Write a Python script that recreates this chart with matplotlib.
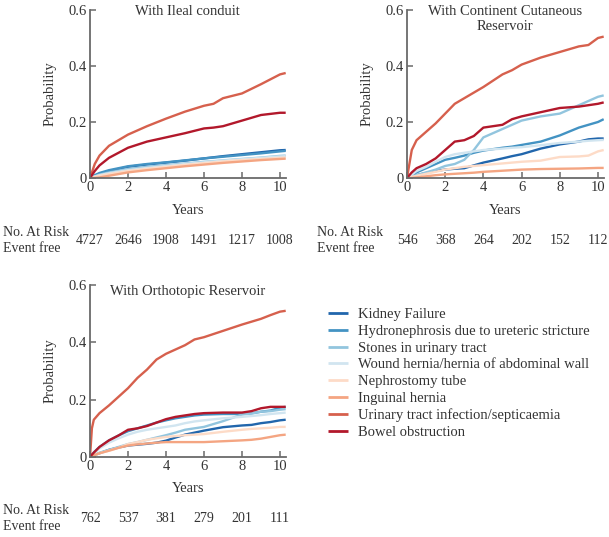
import matplotlib
matplotlib.use("Agg")
import matplotlib.pyplot as plt
from matplotlib.transforms import blended_transform_factory

plt.rcParams['font.family'] = ['Liberation Serif', 'DejaVu Serif']

labels = ["Kidney Failure", "Hydronephrosis due to ureteric stricture",
          "Stones in urinary tract", "Wound hernia/hernia of abdominal wall",
          "Nephrostomy tube", "Inguinal hernia",
          "Urinary tract infection/septicaemia", "Bowel obstruction"]
colors = ['#2166ac', '#4393c3', '#92c5de', '#d1e5f0',
          '#fddbc7', '#f4a582', '#d6604d', '#b2182b']

# --- With Ileal conduit ---
t_ileal = [0, 0.25, 0.5, 1, 2, 3, 4, 5, 6, 6.5, 7, 8, 9, 10, 10.3]
ileal_kf = [0, 0.008, 0.015, 0.025, 0.04, 0.048, 0.055, 0.062, 0.07, 0.074, 0.078, 0.085, 0.092, 0.099, 0.1]
ileal_hyd = [0, 0.01, 0.018, 0.028, 0.042, 0.05, 0.056, 0.063, 0.07, 0.073, 0.076, 0.082, 0.088, 0.095, 0.097]
ileal_stone = [0, 0.006, 0.012, 0.02, 0.032, 0.04, 0.046, 0.052, 0.058, 0.06, 0.063, 0.068, 0.073, 0.079, 0.08]
ileal_wound = [0, 0.005, 0.01, 0.017, 0.028, 0.036, 0.043, 0.05, 0.056, 0.059, 0.062, 0.067, 0.072, 0.077, 0.078]
ileal_neph = [0, 0.004, 0.008, 0.014, 0.025, 0.033, 0.04, 0.047, 0.053, 0.056, 0.059, 0.064, 0.068, 0.072, 0.073]
ileal_ing = [0, 0.0, 0.002, 0.008, 0.02, 0.028, 0.035, 0.042, 0.048, 0.051, 0.054, 0.059, 0.064, 0.068, 0.069]
ileal_uti = [0, 0.05, 0.08, 0.115, 0.155, 0.185, 0.212, 0.237, 0.258, 0.265, 0.285, 0.302, 0.335, 0.37, 0.375]
ileal_bowel = [0, 0.025, 0.045, 0.072, 0.108, 0.13, 0.145, 0.16, 0.177, 0.18, 0.185, 0.205, 0.225, 0.233, 0.233]
ileal_risk = ["4727", "2646", "1908", "1491", "1217", "1008"]

# --- With Continent Cutaneous Reservoir ---
t_cont = [0, 0.25, 0.5, 1, 1.5, 2, 2.5, 3, 3.5, 4, 5, 5.5, 6, 7, 8, 9, 9.5, 10, 10.3]
cont_kf = [0, 0.005, 0.01, 0.018, 0.025, 0.03, 0.033, 0.035, 0.045, 0.055, 0.07, 0.078, 0.085, 0.105, 0.12, 0.13, 0.138, 0.141, 0.141]
cont_hyd = [0, 0.01, 0.02, 0.035, 0.05, 0.065, 0.072, 0.08, 0.09, 0.098, 0.108, 0.112, 0.118, 0.13, 0.152, 0.18, 0.19, 0.2, 0.21]
cont_stone = [0, 0.005, 0.01, 0.02, 0.03, 0.043, 0.05, 0.065, 0.1, 0.145, 0.175, 0.19, 0.205, 0.22, 0.23, 0.26, 0.275, 0.29, 0.295]
cont_wound = [0, 0.012, 0.025, 0.04, 0.058, 0.075, 0.085, 0.09, 0.095, 0.1, 0.105, 0.108, 0.11, 0.117, 0.125, 0.13, 0.133, 0.135, 0.136]
cont_neph = [0, 0.004, 0.008, 0.015, 0.022, 0.03, 0.035, 0.04, 0.043, 0.046, 0.052, 0.055, 0.058, 0.062, 0.075, 0.077, 0.08, 0.095, 0.1]
cont_ing = [0, 0.0, 0.002, 0.006, 0.01, 0.013, 0.015, 0.017, 0.019, 0.022, 0.026, 0.028, 0.03, 0.032, 0.033, 0.034, 0.035, 0.036, 0.036]
cont_uti = [0, 0.10, 0.135, 0.165, 0.195, 0.23, 0.265, 0.285, 0.305, 0.325, 0.37, 0.385, 0.405, 0.43, 0.45, 0.47, 0.475, 0.50, 0.505]
cont_bowel = [0, 0.02, 0.035, 0.05, 0.07, 0.10, 0.13, 0.135, 0.15, 0.18, 0.19, 0.21, 0.22, 0.235, 0.25, 0.255, 0.26, 0.265, 0.27]
cont_risk = ["546", "368", "264", "202", "152", "112"]

# --- With Orthotopic Reservoir ---
t_orth = [0, 0.1, 0.2, 0.5, 1, 1.5, 2, 2.5, 3, 3.5, 4, 4.5, 5, 5.5, 6, 7, 8, 8.5, 9, 9.5, 10, 10.3]
orth_kf = [0, 0.003, 0.006, 0.013, 0.025, 0.033, 0.04, 0.043, 0.046, 0.05, 0.057, 0.068, 0.078, 0.085, 0.092, 0.104, 0.11, 0.112, 0.118, 0.122, 0.128, 0.13]
orth_hyd = [0, 0.008, 0.016, 0.035, 0.058, 0.075, 0.09, 0.1, 0.11, 0.12, 0.128, 0.135, 0.14, 0.145, 0.148, 0.15, 0.15, 0.152, 0.158, 0.162, 0.172, 0.175]
orth_stone = [0, 0.003, 0.006, 0.015, 0.025, 0.035, 0.045, 0.052, 0.06, 0.068, 0.076, 0.085, 0.095, 0.1, 0.105, 0.125, 0.148, 0.152, 0.158, 0.16, 0.165, 0.167]
orth_wound = [0, 0.006, 0.012, 0.03, 0.05, 0.065, 0.078, 0.088, 0.095, 0.1, 0.105, 0.11, 0.118, 0.124, 0.128, 0.135, 0.14, 0.143, 0.146, 0.15, 0.153, 0.155]
orth_neph = [0, 0.003, 0.006, 0.013, 0.022, 0.032, 0.045, 0.052, 0.06, 0.065, 0.07, 0.073, 0.076, 0.078, 0.08, 0.088, 0.095, 0.098, 0.1, 0.102, 0.105, 0.105]
orth_ing = [0, 0.003, 0.006, 0.013, 0.022, 0.032, 0.04, 0.044, 0.047, 0.05, 0.052, 0.052, 0.052, 0.052, 0.052, 0.055, 0.058, 0.06, 0.064, 0.07, 0.076, 0.078]
orth_uti = [0, 0.10, 0.13, 0.153, 0.18, 0.21, 0.24, 0.276, 0.305, 0.34, 0.36, 0.375, 0.39, 0.41, 0.418, 0.44, 0.462, 0.472, 0.482, 0.495, 0.507, 0.51]
orth_bowel = [0, 0.008, 0.015, 0.035, 0.058, 0.075, 0.095, 0.1, 0.108, 0.12, 0.132, 0.14, 0.145, 0.15, 0.153, 0.155, 0.155, 0.16, 0.17, 0.175, 0.175, 0.175]
orth_risk = ["762", "537", "381", "279", "201", "111"]

risk_years = [0, 2, 4, 6, 8, 10]
xticks = [0, 2, 4, 6, 8, 10]
yticks = [0, 0.2, 0.4, 0.6]
yticklabels = ["0", "0.2", "0.4", "0.6"]

W, H = 609, 537
fig = plt.figure(figsize=(W / 100, H / 100), dpi=100)

def px_axes(x0, y_top, w, h):
    return fig.add_axes([x0 / W, 1 - (y_top + h) / H, w / W, h / H])

panels = [
    dict(rect=(90, 10, 195.7, 168), t=t_ileal,
         series=[ileal_kf, ileal_hyd, ileal_stone, ileal_wound, ileal_neph, ileal_ing, ileal_uti, ileal_bowel],
         title="With Ileal conduit", title_y=0.99, risk=ileal_risk,
         lab_x=3, lab_y=(232, 248), num_y=240),
    dict(rect=(407, 10, 196.7, 168), t=t_cont,
         series=[cont_kf, cont_hyd, cont_stone, cont_wound, cont_neph, cont_ing, cont_uti, cont_bowel],
         title="With Continent Cutaneous\nReservoir", title_y=0.945, risk=cont_risk,
         lab_x=317, lab_y=(232, 248), num_y=240),
    dict(rect=(90, 285, 195.7, 172), t=t_orth,
         series=[orth_kf, orth_hyd, orth_stone, orth_wound, orth_neph, orth_ing, orth_uti, orth_bowel],
         title="With Orthotopic Reservoir", title_y=0.96, risk=orth_risk,
         lab_x=3, lab_y=(510, 527), num_y=518),
]

spine_col = '#6a6a6a'
txt_col = '#333333'
fs = 10.5
fs_risk = 10

lines = []
for p in panels:
    ax = px_axes(*p['rect'])
    for vals, c in zip(p['series'], colors):
        ln, = ax.plot(p['t'], vals, color=c, lw=1.7, solid_capstyle='butt')
        if p is panels[0]:
            lines.append(ln)
    ax.set_xlim(0, 10.3)
    ax.set_ylim(0, 0.6)
    ax.set_xticks(xticks)
    ax.set_yticks(yticks)
    ax.set_yticklabels(yticklabels)
    for s in ['top', 'right']:
        ax.spines[s].set_visible(False)
    for s in ['left', 'bottom']:
        ax.spines[s].set_color(spine_col)
        ax.spines[s].set_linewidth(1.3)
    ax.tick_params(direction='in', length=4, width=1.1, color=spine_col,
                   labelsize=fs, labelcolor=txt_col, pad=2)
    ax.patch.set_alpha(0)
    ax.text(0.5, p['title_y'], p['title'], transform=ax.transAxes, ha='center',
            va='center', fontsize=fs, color=txt_col, linespacing=1.15)
    hh = p['rect'][3]
    ax.text(0.5, -32 / hh, "Years", transform=ax.transAxes, ha='center',
            va='center', fontsize=fs, color=txt_col)
    ax.text(-40 / p['rect'][2], 0.5, "Probability", transform=ax.transAxes,
            ha='center', va='center', rotation=90, fontsize=fs, color=txt_col)
    fig.text(p['lab_x'] / W, 1 - p['lab_y'][0] / H, "No. At Risk", ha='left',
             va='center', fontsize=fs_risk, color=txt_col)
    fig.text(p['lab_x'] / W, 1 - p['lab_y'][1] / H, "Event free", ha='left',
             va='center', fontsize=fs_risk, color=txt_col)
    tr = blended_transform_factory(ax.transData, fig.transFigure)
    for yr, n in zip(risk_years, p['risk']):
        ax.text(yr, 1 - p['num_y'] / H, n, transform=tr, ha='center', va='center',
                fontsize=fs_risk, color=txt_col, clip_on=False)

leg = fig.legend(lines, labels, loc='upper left',
                 bbox_to_anchor=(328 / W, 1 - 308 / H), frameon=False,
                 fontsize=fs, handlelength=1.37, handletextpad=0.68,
                 labelspacing=0.24, borderaxespad=0, borderpad=0)
for t in leg.get_texts():
    t.set_color(txt_col)
for l in leg.get_lines():
    l.set_linewidth(2.0)

fig.savefig("out.png", dpi=100)
